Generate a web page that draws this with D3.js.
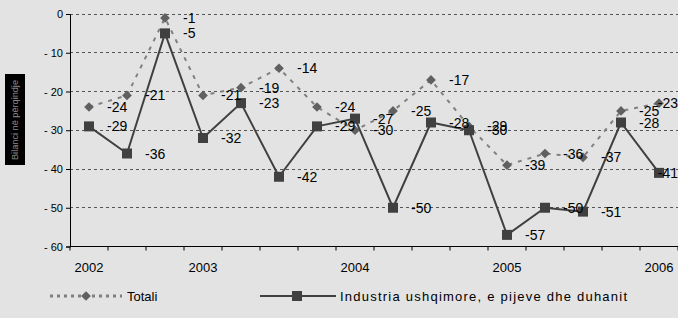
<!DOCTYPE html>
<meta charset="utf-8">
<style>
body { margin: 0; background: #e3e3e3; }
svg { display: block; font-family: "Liberation Sans", Arial, sans-serif; }
</style>
<body>
<script src="https://d3js.org/d3.v7.min.js"></script>
<script>

// quarterly points, 2002 - 2006
const quarters = d3.range(16);
const yearLabels = ["2002", "", "", "2003", "", "", "", "2004", "", "", "", "2005", "", "", "", "2006"];
const totali = [-24, -21, -1, -21, -19, -14, -24, -30, -25, -17, -29, -39, -36, -37, -25, -23];
const industria = [-29, -36, -5, -32, -23, -42, -29, -27, -50, -28, -30, -57, -50, -51, -28, -41];
const yTicks = [0, -10, -20, -30, -40, -50, -60];
const seriesNames = ["Totali", "Industria ushqimore, e pijeve dhe duhanit"];

const W = 678, H = 318;
const plot = { left: 70, right: 678, top: 14, bottom: 246.5 };

const svg = d3.select("body").append("svg")
   .attr("width", W)
   .attr("height", H);

svg.append("rect").attr("width", W).attr("height", H).attr("fill", "#e3e3e3");

const x = d3.scaleBand().domain(quarters).range([plot.left, plot.right]);
const y = d3.scaleLinear().domain([-60, 0]).range([plot.bottom, plot.top]);
const cx = i => x(i) + x.bandwidth() / 2;

//grid
svg.append("g")
   .selectAll("line")
   .data(yTicks.filter(d => d > -60))
   .join("line")
   .attr("x1", plot.left).attr("x2", plot.right)
   .attr("y1", d => y(d)).attr("y2", d => y(d))
   .attr("stroke", "#555")
   .attr("stroke-dasharray", "3,3")
   .attr("shape-rendering", "crispEdges");

//y axis
const yAxis = svg.append("g")
   .attr("transform", `translate(${plot.left},0)`)
   .call(d3.axisLeft(y).tickValues(yTicks).tickSize(4)
      .tickFormat(d => d === 0 ? "0" : "- " + Math.abs(d)));
yAxis.select(".domain").attr("stroke", "#000");
yAxis.selectAll(".tick line").attr("stroke", "#000");
yAxis.selectAll("text").attr("font-size", 11).attr("fill", "#000")
   .attr("font-family", "Liberation Sans, Arial, sans-serif");

//x axis, ticks on band edges
svg.append("line")
   .attr("x1", plot.left).attr("x2", plot.right)
   .attr("y1", plot.bottom).attr("y2", plot.bottom)
   .attr("stroke", "#000");
svg.append("g")
   .selectAll("line")
   .data(d3.range(17))
   .join("line")
   .attr("x1", i => plot.left + i * x.bandwidth())
   .attr("x2", i => plot.left + i * x.bandwidth())
   .attr("y1", plot.bottom).attr("y2", plot.bottom + 4)
   .attr("stroke", "#000");
svg.append("g")
   .selectAll("text")
   .data(quarters)
   .join("text")
   .attr("x", i => cx(i))
   .attr("y", 272)
   .attr("text-anchor", "middle")
   .attr("font-size", 13)
   .text(i => yearLabels[i]);

//axis title box on the left
svg.append("rect")
   .attr("x", 5).attr("y", 74).attr("width", 20).attr("height", 91)
   .attr("fill", "#000");
svg.append("text")
   .attr("transform", "translate(18,160) rotate(-90)")
   .attr("font-size", 9)
   .attr("fill", "#8a8a8a")
   .attr("textLength", 80)
   .attr("lengthAdjust", "spacingAndGlyphs")
   .text("Bilanci në përqindje");

//Totali line
const line = d3.line().x((d, i) => cx(i)).y(d => y(d));
svg.append("path")
   .datum(totali)
   .attr("d", line)
   .attr("fill", "none")
   .attr("stroke", "#808080")
   .attr("stroke-width", 2)
   .attr("stroke-dasharray", "4,6");

svg.append("g")
   .selectAll("path")
   .data(totali)
   .join("path")
   .attr("d", d3.symbol(d3.symbolDiamond2, 60))
   .attr("transform", (d, i) => `translate(${cx(i)},${y(d)})`)
   .attr("fill", "#606060");

//Industria line
svg.append("path")
   .datum(industria)
   .attr("d", line)
   .attr("fill", "none")
   .attr("stroke", "#404040")
   .attr("stroke-width", 2);

svg.append("g")
   .selectAll("rect")
   .data(industria)
   .join("rect")
   .attr("x", (d, i) => cx(i) - 5)
   .attr("y", d => y(d) - 5)
   .attr("width", 10).attr("height", 10)
   .attr("fill", "#404040");

//value labels, pushed back inside the right edge like excel does
[totali, industria].forEach(series => {
   svg.append("g")
      .selectAll("text")
      .data(series)
      .join("text")
      .attr("x", (d, i) => cx(i) + 18)
      .attr("y", d => y(d))
      .attr("dy", "0.36em")
      .attr("font-size", 14)
      .attr("fill", "#000")
      .text(d => d)
      .each(function() {
         const t = d3.select(this);
         const w = this.getComputedTextLength();
         const x0 = +t.attr("x");
         if (x0 + w > W) t.attr("x", W - w);
      });
});

//legend
const lg = svg.append("g");
lg.append("line")
   .attr("x1", 50).attr("x2", 122).attr("y1", 296).attr("y2", 296)
   .attr("stroke", "#808080").attr("stroke-width", 3).attr("stroke-dasharray", "3,4");
lg.append("path")
   .attr("d", d3.symbol(d3.symbolDiamond2, 60))
   .attr("transform", "translate(86,296)")
   .attr("fill", "#606060");
lg.append("text")
   .attr("x", 127).attr("y", 296).attr("dy", "0.36em")
   .attr("font-size", 13)
   .text(seriesNames[0]);

lg.append("line")
   .attr("x1", 260).attr("x2", 336).attr("y1", 296).attr("y2", 296)
   .attr("stroke", "#404040").attr("stroke-width", 2);
lg.append("rect")
   .attr("x", 292).attr("y", 291).attr("width", 10).attr("height", 10)
   .attr("fill", "#404040");
lg.append("text")
   .attr("x", 340).attr("y", 296).attr("dy", "0.36em")
   .attr("font-size", 13)
   .attr("textLength", 287)
   .attr("lengthAdjust", "spacing")
   .text(seriesNames[1]);

</script>
</body>
